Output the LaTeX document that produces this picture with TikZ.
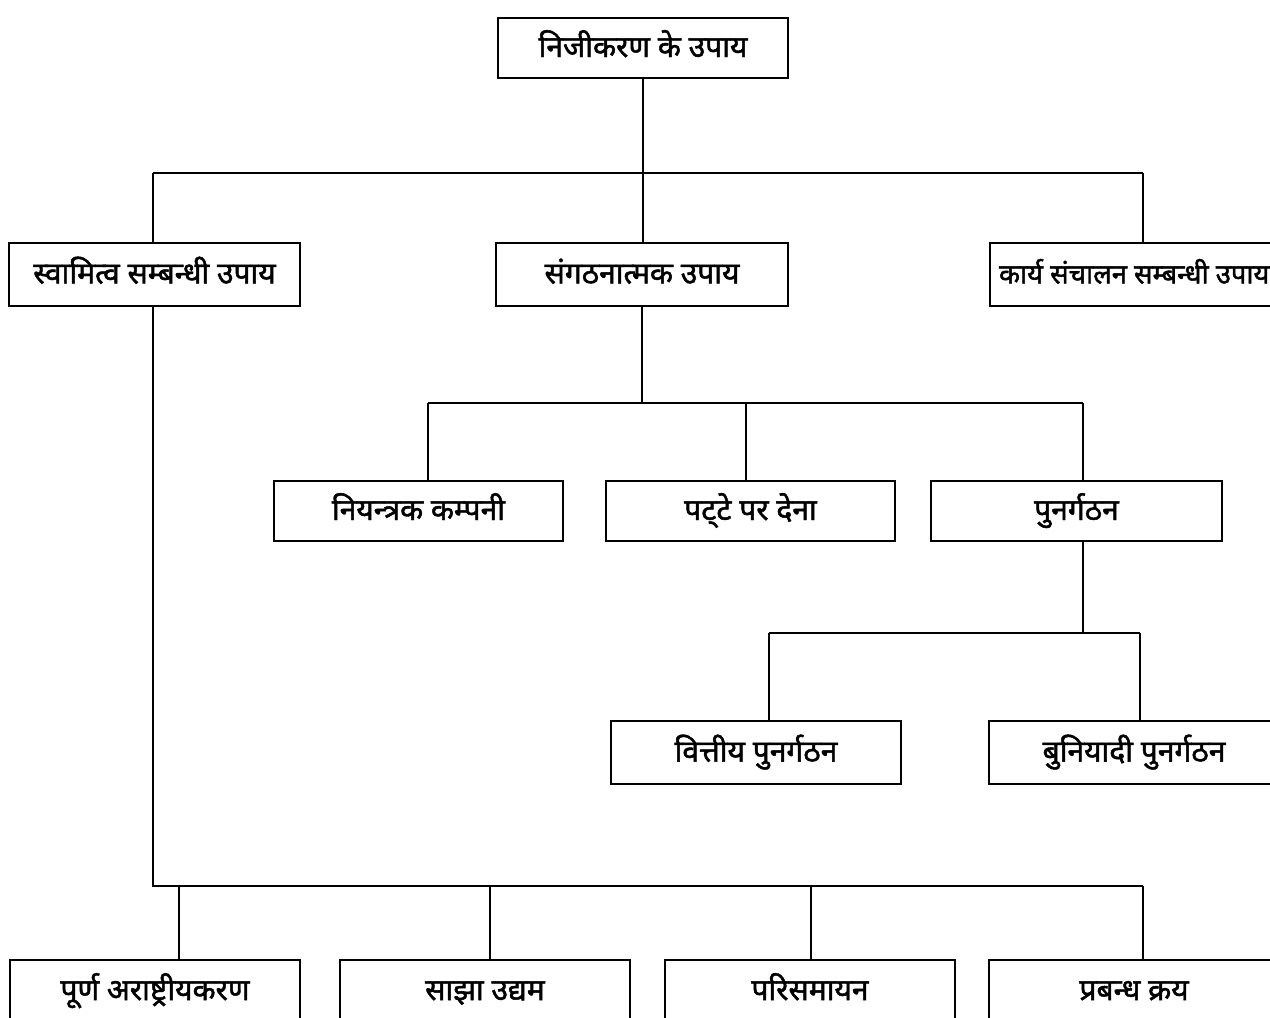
\documentclass[tikz,border=0pt]{standalone}
\usepackage{fontspec}
\newfontfamily\dev[Script=Devanagari, FakeBold=1.6]{Noto Sans}
\begin{document}
\begin{tikzpicture}[x=1pt,y=-1pt,
  line width=2pt,
  box/.style={draw=black, line width=2pt, fill=white, inner sep=0pt,
    text height=22pt, text depth=4pt,
    font=\dev\fontsize{30}{34}\selectfont},
  wide/.style={box, minimum width=290pt, minimum height=62pt},
  wire/.style={draw=black, line width=2pt}]
\useasboundingbox (0,0) rectangle (1270,1018);
\fill[white] (0,0) rectangle (1270,1018);
\clip (0,0) rectangle (1270,1018);

% level 0
\node[wide, minimum height=60pt] (top) at (643,48) {निजीकरण के उपाय};

% level 1
\node[wide, minimum width=291pt, minimum height=63pt] (own) at (154.5,274.5) {स्वामित्व सम्बन्धी उपाय};
\node[wide, minimum width=292pt, minimum height=63pt] (org) at (642,274.5) {संगठनात्मक उपाय};
\node[box, anchor=west, minimum height=63pt, inner xsep=9pt, minimum width=300pt,
  font=\dev\fontsize{27.4}{31}\selectfont] (ops) at (989,274.5) {कार्य संचालन सम्बन्धी उपाय\hspace*{20pt}};

% level 2 (organisational)
\node[wide, minimum width=289pt, minimum height=60pt] (hold) at (418.5,511) {नियन्त्रक कम्पनी};
\node[wide, minimum width=289pt, minimum height=60pt] (lease) at (750.5,511) {पट्‌टे पर देना};
\node[wide, minimum width=291pt, minimum height=60pt] (reorg) at (1076.5,511) {पुनर्गठन};

% level 3 (reorganisation)
\node[wide, minimum height=63pt] (fin) at (756,752.5) {वित्तीय पुनर्गठन};
\node[wide, minimum height=63pt] (basic) at (1134,752.5) {बुनियादी पुनर्गठन};

% bottom row (ownership)
\node[wide] (full) at (155,991) {पूर्ण अराष्ट्रीयकरण};
\node[wide] (joint) at (485,991) {साझा उद्यम};
\node[wide] (liq) at (810,991) {परिसमायन};
\node[wide] (mbo) at (1134,991) {प्रबन्ध क्रय};

% bus junctions
\coordinate (a1) at (153,173);
\coordinate (a3) at (1143,173);
\coordinate (b1) at (428,403);
\coordinate (b2) at (746,403);
\coordinate (b3) at (1083,403);
\coordinate (c1) at (769,633);
\coordinate (c2) at (1140,633);
\coordinate (d1) at (179,886);
\coordinate (d2) at (490,886);
\coordinate (d3) at (811,886);
\coordinate (d4) at (1143,886);
\coordinate (d0) at (153,886);

% top to level 1
\draw[wire] (top.south) -- (top.south |- a1);
\draw[wire] (a1) -- (a3);
\draw[wire] (a1) -- (a1 |- own.north);
\draw[wire] (top.south |- a1) -- (top.south |- org.north);
\draw[wire] (a3) -- (a3 |- ops.north);

% organisational branch
\draw[wire] (org.south) -- (org.south |- b1);
\draw[wire] (b1) -- (b3);
\draw[wire] (b1) -- (b1 |- hold.north);
\draw[wire] (b2) -- (b2 |- lease.north);
\draw[wire] (b3) -- (b3 |- reorg.north);

% reorganisation branch
\draw[wire] (b3 |- reorg.south) -- (b3 |- c1);
\draw[wire] (c1) -- (c2);
\draw[wire] (c1) -- (c1 |- fin.north);
\draw[wire] (c2) -- (c2 |- basic.north);

% ownership branch
\draw[wire] (d0 |- own.south) -- (d0) -- (d4);
\draw[wire] (d1) -- (d1 |- full.north);
\draw[wire] (d2) -- (d2 |- joint.north);
\draw[wire] (d3) -- (d3 |- liq.north);
\draw[wire] (d4) -- (d4 |- mbo.north);
\end{tikzpicture}
\end{document}
